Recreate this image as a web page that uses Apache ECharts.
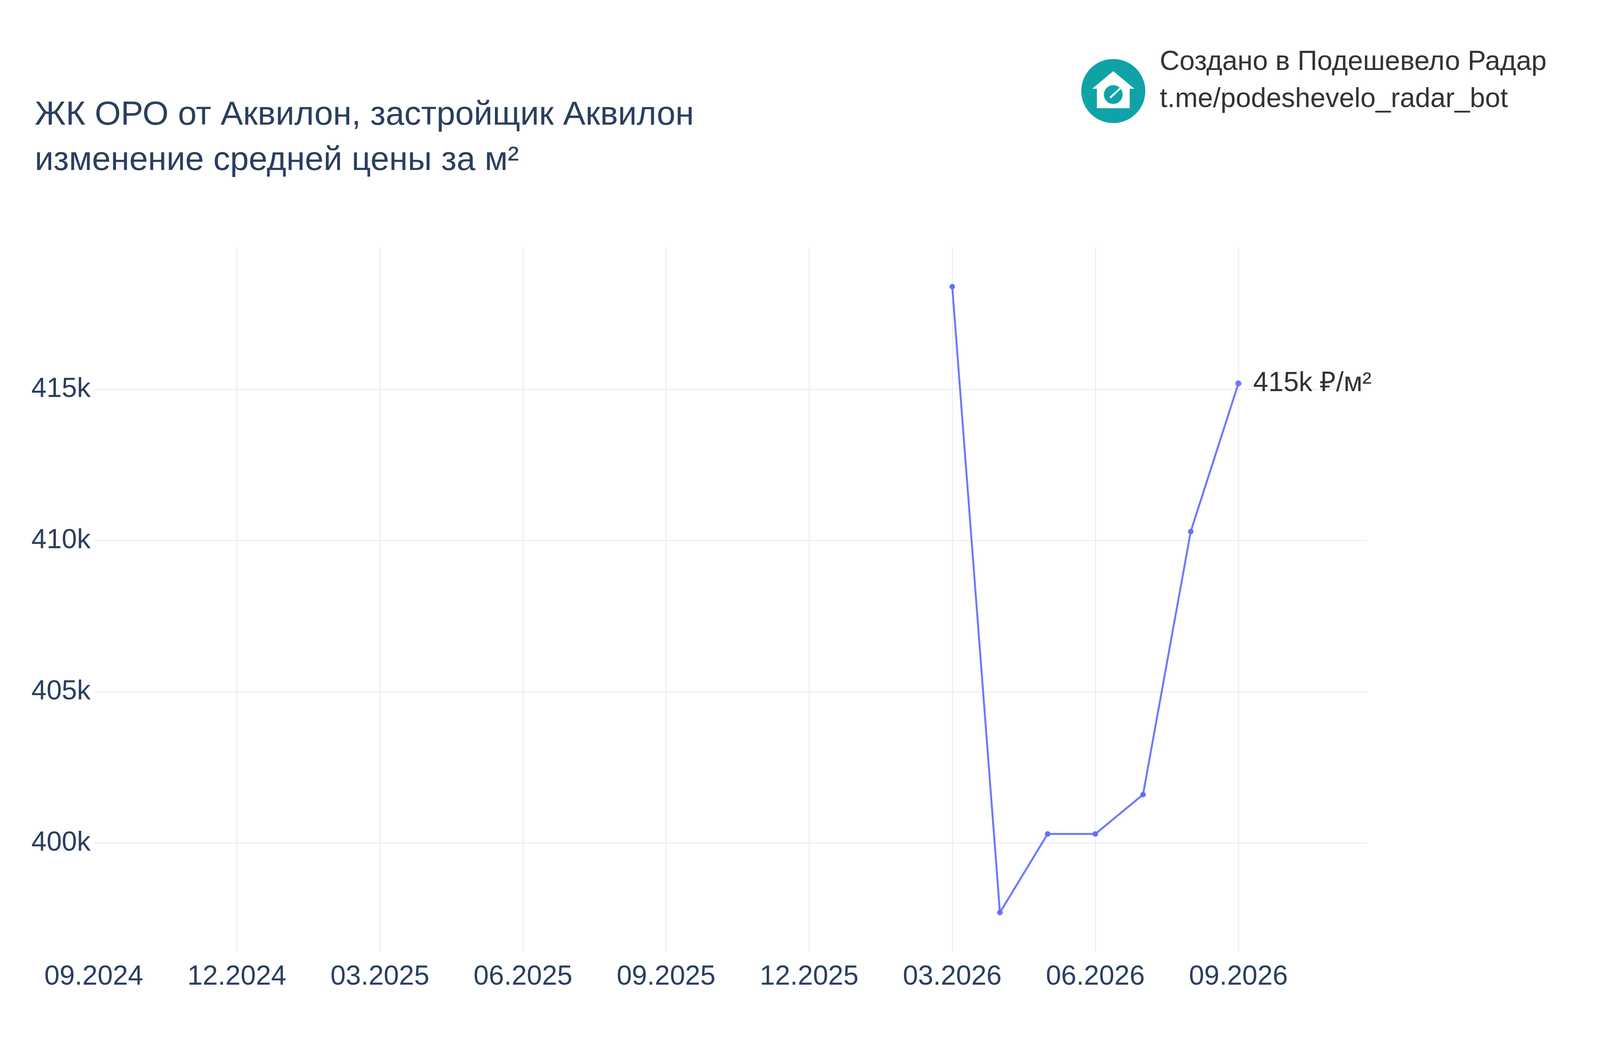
<!DOCTYPE html>
<html>
<head>
<meta charset="utf-8">
<script src="https://cdn.jsdelivr.net/npm/echarts@6/dist/echarts.min.js"></script>
<style>html,body{margin:0;padding:0;background:#fff}#chart{width:4200px;height:2700px}</style>
</head>
<body>
<div id="chart"></div>
<script>
// данные графика
var dates = ['2026-03', '2026-04', '2026-05', '2026-06', '2026-07', '2026-08', '2026-09'];
var prices = [418400, 397700, 400300, 400300, 401600, 410300, 415200];
var tickLabels = ['09.2024', '12.2024', '03.2025', '06.2025', '09.2025', '12.2025', '03.2026', '06.2026', '09.2026'];
var yTicks = [400000, 405000, 410000, 415000];

// месяцы от 09.2024
function monthIndex(s) {
  var p = s.split('-');
  return (+p[0] - 2024) * 12 + (+p[1] - 9);
}

var chart = echarts.init(document.getElementById('chart'));
var font = 'Liberation Sans, Arial, sans-serif';
var data = dates.map(function (d, i) { return [monthIndex(d), prices[i]]; });

chart.setOption({
  backgroundColor: '#fff',
  textStyle: { fontFamily: font },
  title: {
    text: 'ЖК ОРО от Аквилон, застройщик Аквилон\nизменение средней цены за м²',
    left: 84, top: 232,
    textStyle: { fontSize: 86, fontWeight: 'normal', color: '#2a3f5f', lineHeight: 116, fontFamily: font }
  },
  graphic: [
    { type: 'circle', shape: { cx: 2850, cy: 233, r: 82 }, style: { fill: '#0fa3a8' } },
    { type: 'polygon', shape: { points: [[2850, 182], [2904, 227], [2892, 227], [2892, 277], [2808, 277], [2808, 227], [2796, 227]] }, style: { fill: '#fff' } },
    { type: 'circle', shape: { cx: 2850, cy: 242, r: 26 }, style: { fill: '#0fa3a8', stroke: '#fff', lineWidth: 4 } },
    { type: 'line', shape: { x1: 2842, y1: 250, x2: 2868, y2: 226 }, style: { stroke: '#fff', lineWidth: 5 } },
    { type: 'text', left: 2969, top: 112, style: { text: 'Создано в Подешевело Радар\nt.me/podeshevelo_radar_bot', fontSize: 70, lineHeight: 95, fill: '#333', fontFamily: font } }
  ],
  grid: { left: 240, right: 700, top: 633, bottom: 264, containLabel: false },
  xAxis: {
    type: 'value', min: 0, max: 26.7, interval: 3,
    axisLine: { show: false }, axisTick: { show: false },
    splitLine: { showMinLine: false, showMaxLine: false, lineStyle: { color: '#ebf0f8', width: 3 } },
    axisLabel: {
      fontSize: 70, color: '#2a3f5f', margin: 30, showMaxLabel: false,
      formatter: function (v) { return tickLabels[Math.round(v / 3)] || ''; }
    }
  },
  yAxis: {
    type: 'value', min: 396400, max: 419700,
    axisLine: { show: false }, axisTick: { show: false },
    splitLine: { show: false }, axisLabel: { show: false }
  },
  series: [{
    type: 'line', data: data, z: 3,
    lineStyle: { color: '#636efa', width: 5 },
    itemStyle: { color: '#636efa' },
    symbol: 'circle', symbolSize: 14,
    label: {
      show: true, position: 'right', distance: 30, fontSize: 70, color: '#333',
      formatter: function (p) {
        return p.dataIndex === data.length - 1 ? Math.round(p.value[1] / 1000) + 'k ₽/м²' : '';
      }
    },
    markLine: {
      silent: true, symbol: 'none', z: 1,
      lineStyle: { color: '#ebf0f8', width: 3, type: 'solid' },
      label: {
        position: 'start', distance: 8, fontSize: 70, color: '#2a3f5f', fontFamily: font,
        formatter: function (p) { return (p.value / 1000) + 'k'; }
      },
      data: yTicks.map(function (v) { return { yAxis: v }; })
    }
  }]
});
</script>
</body>
</html>
